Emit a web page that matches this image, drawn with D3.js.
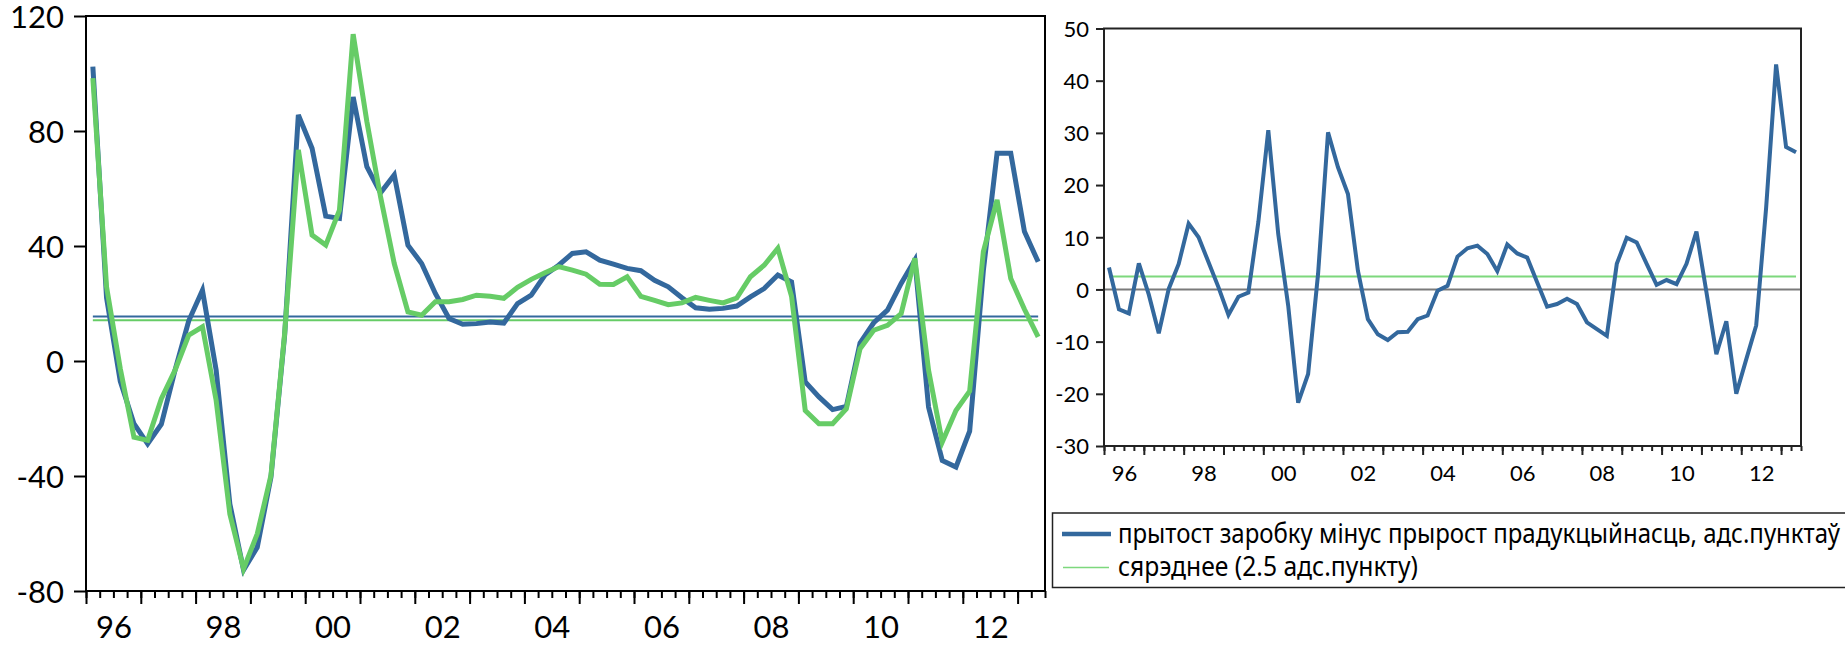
<!DOCTYPE html>
<html>
<head>
<meta charset="utf-8">
<script src="https://cdn.jsdelivr.net/npm/d3@7"></script>
<style>
  html, body { margin: 0; padding: 0; background: #fff; }
  svg { display: block; }
  text { font-family: Lato, "Open Sans", "Noto Sans", sans-serif; fill: #000; }
  .legend text { font-family: "Noto Sans", "Open Sans", sans-serif; }
</style>
</head>
<body>
<svg id="chart" width="1845" height="649"></svg>
<script>
// ---------------- DATA ----------------
const startYear = 1996;
const nQuarters = 70; // 1996Q1 .. 2013Q2
const quarters = [];
for (let k = 0; k < nQuarters; k++) quarters.push((startYear + Math.floor(k / 4)) + "Q" + (k % 4 + 1));

// left panel: wage growth (blue) and productivity growth (green)
const wageGrowth = [102.4, 22, -7, -21.8, -28.8, -22, -3.2, 14, 24.6, -3.2,
  -49.7, -72.7, -64.8, -40.4, 9, 85.6, 74.0, 50.4, 49.6, 91.8,
  67.6, 58.5, 64.7, 40.3, 33.9, 23.5, 14.8, 12.8, 13.0, 13.6,
  13.2, 20.0, 22.9, 29.9, 33.3, 37.4, 38.0, 35.1, 33.7, 32.2,
  31.4, 28.1, 25.8, 22.0, 18.5, 18.0, 18.3, 19.1, 22.3, 25.2,
  29.9, 27.5, -7.3, -12.5, -16.9, -15.8, 6.3, 13.3, 17.7, 27.0,
  35.1, -16.0, -34.6, -36.9, -24.4, 31.5, 72.3, 72.3, 45.0, 34.5];
const productivityGrowth = [98.4, 25.8, -2.6, -26.5, -27.6, -13.1, -3.2, 9.0, 11.9, -13.7,
  -53.2, -72.3, -60.1, -39.8, 9.6, 73.4, 43.8, 40.3, 52.5, 113.7,
  83.3, 57.1, 33.9, 17.1, 15.9, 20.6, 20.6, 21.4, 22.9, 22.5,
  21.8, 25.6, 28.4, 30.7, 32.8, 31.6, 30.2, 26.7, 26.6, 29.3,
  22.5, 21.1, 19.6, 20.2, 22.1, 21.1, 20.2, 21.9, 29.3, 33.3,
  39.2, 22.5, -17.2, -21.8, -21.8, -16.6, 4.3, 10.7, 12.4, 16.5,
  35.7, -3.2, -28.2, -17.2, -10.5, 38.0, 56.0, 28.7, 18.0, 8.4];
const wageMean = 15.5;
const productivityMean = 14.2;

// right panel: wage growth minus productivity growth
const gap = [4.2, -3.8, -4.6, 5.0, -1.0, -8.4, 0.1, 4.9, 12.6, 10.0,
  5.2, 0.4, -4.9, -1.4, -0.6, 12.9, 30.5, 10.6, -3.1, -21.7,
  -16.2, 3.0, 30.1, 23.4, 18.3, 3.6, -5.7, -8.6, -9.7, -8.2,
  -8.1, -5.7, -5.0, -0.25, 0.7, 6.3, 7.9, 8.4, 6.8, 3.5,
  8.6, 6.9, 6.1, 1.4, -3.3, -2.8, -1.8, -2.8, -6.3, -7.6,
  -8.9, 4.9, 9.9, 9.0, 4.9, 0.9, 1.8, 1.0, 4.9, 11.1,
  -0.5, -12.4, -6.1, -20.0, -13.4, -6.9, 15.7, 43.1, 27.3, 26.3];
const gapMean = 2.5;

// tick labels
const labelYears = [1996, 1998, 2000, 2002, 2004, 2006, 2008, 2010, 2012];
const yearLabels = ["96", "98", "00", "02", "04", "06", "08", "10", "12"];
const leftYTicks = [-80, -40, 0, 40, 80, 120];
const rightYTicks = [-30, -20, -10, 0, 10, 20, 30, 40, 50];
const legendLabels = ["прытост заробку мінус прырост прадукцыйнасць, адс.пунктаў",
                      "сярэднее (2.5 адс.пункту)"];

// ---------------- STYLE ----------------
const BLUE = "#33689D";
const GREEN = "#66CC66";
const GREEN_LIGHT = "#7DD87D";

const svg = d3.select("#chart");
svg.append("rect").attr("width", 1845).attr("height", 649).attr("fill", "#fff");

const tPos = i => startYear + (i + 0.5) / 4;
const endYear = startYear + nQuarters / 4;
const minorTicks = d3.range(0, nQuarters + 1).map(k => startYear + k / 4);
const majorTicks = d3.range(startYear, Math.floor(endYear) + 1);
const labelPos = labelYears.map(y => y + 0.5);
const labelFmt = d => yearLabels[labelPos.indexOf(d)];

function panel(opt) {
  const x = d3.scaleLinear().domain([startYear, endYear]).range([opt.x0, opt.x1]);
  const y = d3.scaleLinear().domain(opt.yDomain).range([opt.y1, opt.y0]);
  const g = svg.append("g");

  const ax = (ticks, size) => g.append("g")
    .attr("transform", `translate(0,${opt.y1})`)
    .call(d3.axisBottom(x).tickValues(ticks).tickSize(size).tickFormat(""))
    .call(s => s.select(".domain").remove())
    .call(s => s.selectAll("line").attr("stroke", opt.axisColor).attr("stroke-width", opt.tickW));
  ax(minorTicks, opt.minorLen);
  ax(majorTicks, opt.majorLen);
  g.append("g")
    .attr("transform", `translate(0,${opt.y1})`)
    .call(d3.axisBottom(x).tickValues(labelPos).tickSize(0).tickPadding(opt.xPad).tickFormat(labelFmt))
    .call(s => s.select(".domain").remove())
    .call(s => s.selectAll("text").attr("font-size", opt.fs).attr("fill", "#000")
      .style("font-family", "Lato, 'Open Sans', sans-serif"));

  g.append("g")
    .attr("transform", `translate(${opt.x0},0)`)
    .call(d3.axisLeft(y).tickValues(opt.yTicks).tickSize(opt.yTickLen).tickPadding(opt.yPad).tickFormat(d => String(d)))
    .call(s => s.select(".domain").remove())
    .call(s => s.selectAll("line").attr("stroke", opt.axisColor).attr("stroke-width", opt.tickW))
    .call(s => s.selectAll("text").attr("font-size", opt.fs).attr("dy", "0.36em").attr("fill", "#000")
      .style("font-family", "Lato, 'Open Sans', sans-serif"));

  return { x, y, g };
}

// ---------------- LEFT PANEL ----------------
const L = panel({ x0: 86, x1: 1045, y0: 16, y1: 591, yDomain: [-80, 120], yTicks: leftYTicks,
  minorLen: 7, majorLen: 13, yTickLen: 12, yPad: 10, xPad: 25, fs: 31, tickW: 2, axisColor: "#000" });

const lineL = (arr) => d3.line().x((d, i) => L.x(tPos(i))).y(d => L.y(d))(arr);

L.g.append("line").attr("x1", L.x(tPos(0))).attr("x2", L.x(tPos(nQuarters - 1)))
  .attr("y1", L.y(wageMean)).attr("y2", L.y(wageMean)).attr("stroke", BLUE).attr("stroke-width", 2);
L.g.append("line").attr("x1", L.x(tPos(0))).attr("x2", L.x(tPos(nQuarters - 1)))
  .attr("y1", L.y(productivityMean)).attr("y2", L.y(productivityMean)).attr("stroke", GREEN).attr("stroke-width", 2);

L.g.append("path").attr("d", lineL(wageGrowth)).attr("fill", "none").attr("stroke", BLUE)
  .attr("stroke-width", 5).attr("stroke-linejoin", "miter").attr("stroke-miterlimit", 4);
L.g.append("path").attr("d", lineL(productivityGrowth)).attr("fill", "none").attr("stroke", GREEN)
  .attr("stroke-width", 5).attr("stroke-linejoin", "miter").attr("stroke-miterlimit", 4);

L.g.append("rect").attr("x", 86).attr("y", 16).attr("width", 1045 - 86).attr("height", 591 - 16)
  .attr("fill", "none").attr("stroke", "#000").attr("stroke-width", 2);

// ---------------- RIGHT PANEL ----------------
const R = panel({ x0: 1104, x1: 1801, y0: 28.5, y1: 446, yDomain: [-30, 50], yTicks: rightYTicks,
  minorLen: 5, majorLen: 9, yTickLen: 8, yPad: 7, xPad: 19, fs: 22, tickW: 2, axisColor: "#222" });

R.g.append("line").attr("x1", 1104).attr("x2", 1801).attr("y1", R.y(0)).attr("y2", R.y(0))
  .attr("stroke", "#7a7a7a").attr("stroke-width", 2);
R.g.append("line").attr("x1", R.x(tPos(0))).attr("x2", R.x(tPos(nQuarters - 1)))
  .attr("y1", R.y(gapMean)).attr("y2", R.y(gapMean)).attr("stroke", GREEN_LIGHT).attr("stroke-width", 2);
R.g.append("path")
  .attr("d", d3.line().x((d, i) => R.x(tPos(i))).y(d => R.y(d))(gap))
  .attr("fill", "none").attr("stroke", BLUE).attr("stroke-width", 4)
  .attr("stroke-linejoin", "miter").attr("stroke-miterlimit", 4);
R.g.append("rect").attr("x", 1104).attr("y", 28.5).attr("width", 1801 - 1104).attr("height", 446 - 28.5)
  .attr("fill", "none").attr("stroke", "#222").attr("stroke-width", 2);

// ---------------- LEGEND ----------------
const lg = svg.append("g").attr("class", "legend");
lg.append("path").attr("d", "M1845,513 H1052.5 V587.5 H1845").attr("fill", "none")
  .attr("stroke", "#222").attr("stroke-width", 1.5);
lg.append("line").attr("x1", 1062).attr("x2", 1111).attr("y1", 534).attr("y2", 534)
  .attr("stroke", BLUE).attr("stroke-width", 4.5);
lg.append("line").attr("x1", 1063).attr("x2", 1109).attr("y1", 567.5).attr("y2", 567.5)
  .attr("stroke", GREEN_LIGHT).attr("stroke-width", 1.5);
lg.append("text").attr("x", 1118).attr("y", 543).attr("font-size", 27.5)
  .attr("textLength", 722).attr("lengthAdjust", "spacingAndGlyphs").text(legendLabels[0]);
lg.append("text").attr("x", 1118).attr("y", 576).attr("font-size", 27.5)
  .attr("textLength", 300).attr("lengthAdjust", "spacingAndGlyphs").text(legendLabels[1]);
</script>
</body>
</html>
